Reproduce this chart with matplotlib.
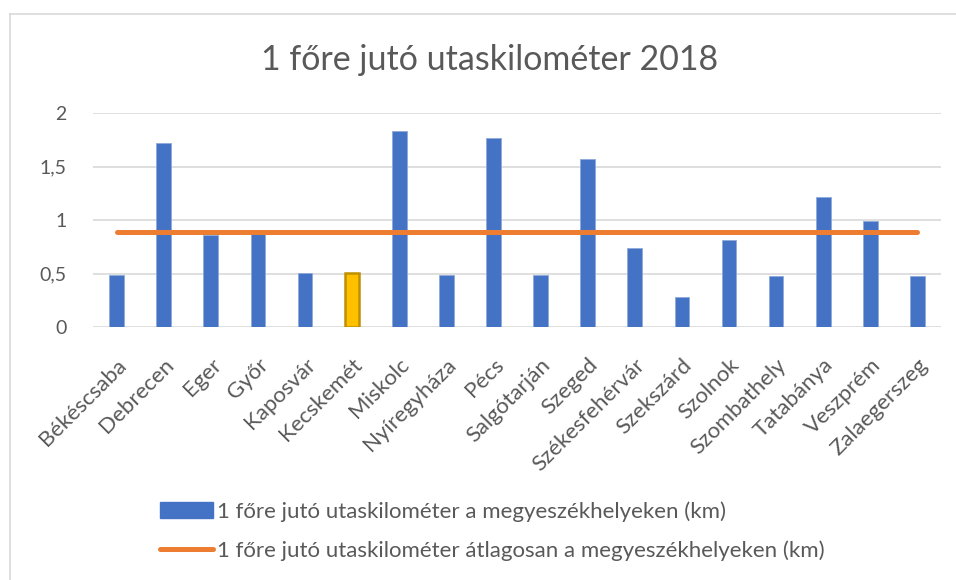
import matplotlib
matplotlib.use("Agg")
import matplotlib.pyplot as plt
import numpy as np
from matplotlib.patches import Patch
from matplotlib.lines import Line2D

CITIES = ["Békéscsaba", "Debrecen", "Eger", "Győr", "Kaposvár", "Kecskemét", "Miskolc",
          "Nyíregyháza", "Pécs", "Salgótarján", "Szeged", "Székesfehérvár", "Szekszárd",
          "Szolnok", "Szombathely", "Tatabánya", "Veszprém", "Zalaegerszeg"]
VALUES = [0.49, 1.72, 0.86, 0.91, 0.51, 0.51, 1.83, 0.49, 1.77, 0.49, 1.57, 0.74, 0.28,
          0.81, 0.48, 1.22, 0.99, 0.48]
AVERAGE = 0.89
HIGHLIGHT = "Kecskemét"
YTICKS = [0, 0.5, 1, 1.5, 2]
YTICK_LABELS = ["0", "0,5", "1", "1,5", "2"]

TITLE = "1 főre jutó utaskilométer 2018"
BAR_LABEL = "1 főre jutó utaskilométer a megyeszékhelyeken (km)"
AVG_LABEL = "1 főre jutó utaskilométer átlagosan a megyeszékhelyeken (km)"

BLUE = "#4472C4"
ORANGE = "#ED7D31"
GOLD = "#FFC000"
GOLD_EDGE = "#BF9000"
GREY = "#595959"

plt.rcParams["font.family"] = ["Lato", "DejaVu Sans"]

fig = plt.figure(figsize=(9.56, 5.8), dpi=100)
ax = fig.add_axes([93 / 956, 1 - 327 / 580, (941 - 93) / 956, (327 - 113.3) / 580])

x = np.arange(len(CITIES))
colors = [GOLD if c == HIGHLIGHT else BLUE for c in CITIES]
edges = [GOLD_EDGE if c == HIGHLIGHT else "#8EA9DB" for c in CITIES]
lws = [1.8 if c == HIGHLIGHT else 0.6 for c in CITIES]
ax.bar(x, VALUES, 0.31, color=colors, edgecolor=edges, linewidth=lws, zorder=2)
ax.plot([x[0], x[-1]], [AVERAGE, AVERAGE], color=ORANGE, lw=3.6, solid_capstyle="round", zorder=3)

ax.set_xlim(-0.5, len(CITIES) - 0.5)
ax.set_ylim(0, 2)
ax.set_yticks(YTICKS)
ax.set_yticklabels(YTICK_LABELS)
ax.set_xticks(x)
ax.set_xticklabels(CITIES, rotation=45, ha="right", rotation_mode="anchor")
ax.tick_params(axis="both", length=0, colors=GREY)
ax.tick_params(axis="x", pad=20, labelsize=16)
ax.tick_params(axis="y", pad=19, labelsize=14)
ax.grid(axis="y", color="#D9D9D9", lw=1.2, zorder=0)
for s in ax.spines.values():
    s.set_visible(False)

fig.text(490 / 956, 1 - 60 / 580, TITLE, ha="center", va="center", fontsize=24.5, color=GREY)

handles = [Patch(facecolor=BLUE, edgecolor=BLUE),
           Line2D([0], [0], color=ORANGE, lw=3.6, solid_capstyle="round")]
fig.legend(handles, [BAR_LABEL, AVG_LABEL], loc="upper left",
           bbox_to_anchor=(160 / 956, 1 - 501 / 580), frameon=False, fontsize=16,
           labelcolor=GREY, handlelength=2.4, handletextpad=0.15, labelspacing=0.83,
           borderpad=0, borderaxespad=0)

# chart border (only top and left edges fall inside the crop)
fig.add_artist(Line2D([10 / 956, 10 / 956], [0, 1 - 14 / 580], color="#D9D9D9", lw=1.2))
fig.add_artist(Line2D([10 / 956, 1], [1 - 14 / 580, 1 - 14 / 580], color="#D9D9D9", lw=1.2))

fig.savefig("out.png", dpi=100)
